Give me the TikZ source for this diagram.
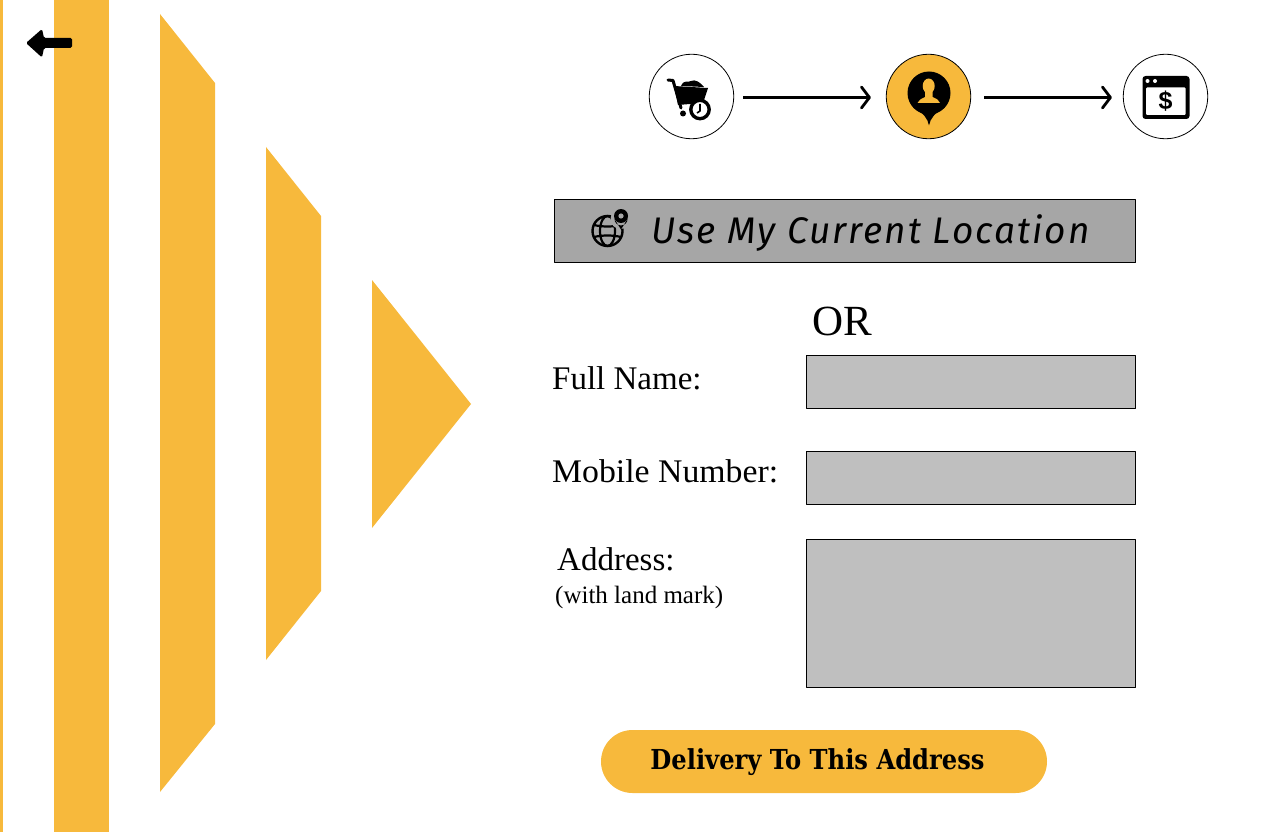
\documentclass[tikz,border=0pt]{standalone}
\usepackage{fontspec}
\setmainfont{Liberation Serif}
\newfontfamily\locfont[LetterSpace=5.4]{Fira Sans}
\newfontfamily\btnfont{DejaVu Serif}
\newfontfamily\mobfont[FakeStretch=1.023]{Liberation Serif}
\newfontfamily\iconfont{Liberation Sans}
\usetikzlibrary{arrows.meta,shapes.misc}
\definecolor{amber}{HTML}{F7B93C}
\definecolor{fieldgray}{HTML}{BFBFBF}
\definecolor{locgray}{HTML}{A6A6A6}
\tikzset{
  band/.style={fill=amber,draw=none},
  stepnode/.style={circle,draw=black,line width=0.8pt,minimum size=84.5pt,inner sep=0pt},
  field/.style={rectangle,draw=black,line width=0.8pt,fill=fieldgray,inner sep=0pt},
  flow/.style={line width=3pt,-{Straight Barb[round,length=8pt,width=21pt,line width=2.8pt]}},
  lbl/.style={anchor=base west,inner sep=0pt,font=\fontsize{33}{36}\selectfont},
}
\begin{document}
\begin{tikzpicture}[x=1pt,y=-1pt,line join=round]
\useasboundingbox (0,0) rectangle (1280,832);
% bands on the left
\fill[band] (0,0) rectangle (3,832);
\fill[band] (54,0) rectangle (109,832);
\fill[band] (160,14) -- (215,83) -- (215,724) -- (160,792) -- cycle;
\fill[band] (266,147) -- (321,216) -- (321,591) -- (266,660) -- cycle;
\fill[band] (372,280) -- (471,404) -- (372,528) -- cycle;
% back arrow
\fill[black,rounded corners=1.5pt] (26,43) -- (42,29) -- (44,38) -- (72,38) -- (72,48) -- (44,48) -- (42,57.5) -- cycle;
% steps
\node[stepnode] (cart) at (691.5,96.5) {};
\node[stepnode,fill=amber] (pin) at (928.5,96.5) {};
\node[stepnode] (pay) at (1165.5,96.5) {};
\draw[flow,shorten <=9pt,shorten >=15pt] ([yshift=-1pt]cart.east) -- ([yshift=-1pt]pin.west);
\draw[flow,shorten <=13pt,shorten >=11pt] ([yshift=-1pt]pin.east) -- ([yshift=-1pt]pay.west);
% cart icon
\draw[line width=3pt,line cap=round] (668,80) -- (673,80.5) -- (681,108);
\fill (674,86) -- (708,88) -- (704,100) -- (690,104) -- (678,105) -- cycle;
\fill (681,86) .. controls (684,79) and (688,83) .. (691,81) .. controls (695,79) and (700,82) .. (704,87) -- cycle;
\fill (683,113.5) circle (3);
\draw[line width=3.4pt,fill=white] (700,109.5) circle (9.2);
\draw[line width=1.6pt] (700,104) -- (700,111) -- (697,113);
% pin icon
\fill (929,93) circle (21.5);
\fill (929,125.5) .. controls (927.5,118) and (924,114) .. (913,107) -- (945,107) .. controls (934,114) and (930.5,118) .. (929,125.5) -- cycle;
\fill[amber] (928.7,86) ellipse (6 and 7.5);
\fill[amber] (925,91) -- (932.5,91) -- (932.5,97) .. controls (937,99) and (939,100) .. (940,103) -- (917.5,103) .. controls (918.5,100) and (921,99) .. (925,97) -- cycle;
% payment icon
\fill[rounded corners=3pt] (1142.5,76) rectangle (1189.5,119);
\fill[white,rounded corners=1pt] (1146,87.5) rectangle (1185.5,115);
\fill[white] (1147.5,81) circle (2) (1155,81) circle (2);
\node[inner sep=0pt,font=\iconfont\bfseries\fontsize{25}{25}\selectfont] (dollar) at (1165.5,101.5) {\$};
% location button
\node[rectangle,draw=black,line width=0.8pt,fill=locgray,minimum width=581pt,minimum height=63pt,inner sep=0pt] (loc) at (845,231) {};
\draw[line width=2.4pt] (607.5,231) circle (15);
\draw[line width=2.2pt] (607.5,231) ellipse (7.5 and 15) (594,225) .. controls (602,227) and (613,227) .. (621,225) (594,237) .. controls (602,235) and (613,235) .. (621,237);
\fill[locgray] (620.5,219) circle (10);
\fill (621,229.5) -- (614.5,219) arc (180:0:6.5) -- cycle;
\fill (621,216) circle (7);
\fill[locgray] (621,216) circle (2.6);
\node[anchor=base west,inner sep=0pt,font=\locfont\itshape\fontsize{37}{40}\selectfont] (loctext) at (651,243) {Use My Current Location};
% form
\node[lbl,font=\fontsize{43}{47}\selectfont] (ortext) at (812,335) {OR};
\node[lbl] (namelbl) at (552,389) {Full Name:};
\node[field,minimum width=329pt,minimum height=53pt] (namebox) at (971,382) {};
\node[lbl,font=\mobfont\fontsize{33}{36}\selectfont] (moblbl) at (552,482) {Mobile Number:};
\node[field,minimum width=329pt,minimum height=53pt] (mobbox) at (971,478) {};
\node[lbl] (addrlbl) at (557,570) {Address:};
\node[lbl,font=\fontsize{25}{28}\selectfont] (marklbl) at (555,603) {(with land mark)};
\node[field,minimum width=329pt,minimum height=148pt] (addrbox) at (971,613.5) {};
% submit
\node[rounded rectangle,fill=amber,minimum width=446pt,minimum height=63pt,inner sep=0pt] (submit) at (824,761.5) {};
\node[anchor=base,inner sep=0pt,xscale=0.88,transform shape,font=\btnfont\bfseries\fontsize{27.5}{30}\selectfont] (submittext) at (817.5,769) {Delivery To This Address};
\end{tikzpicture}
\end{document}
